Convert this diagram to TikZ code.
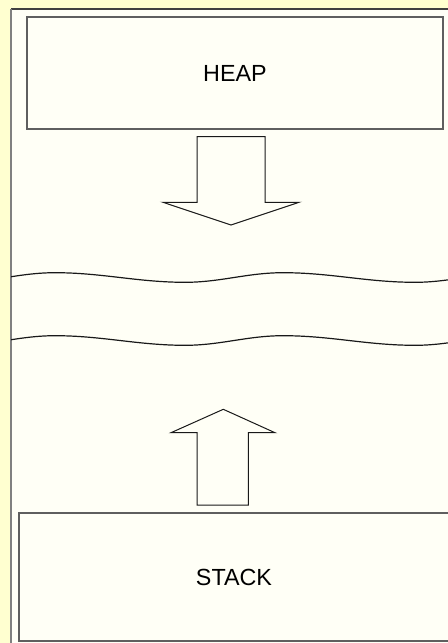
\documentclass[tikz,border=0pt]{standalone}
\usepackage{fontspec}
\setmainfont{Liberation Sans}
\definecolor{pageyellow}{RGB}{255,255,208}
\definecolor{panelivory}{RGB}{255,255,246}
\definecolor{boxgray}{RGB}{95,95,95}
\tikzset{
  blockbox/.style={draw=boxgray, line width=1pt, fill=panelivory, inner sep=0pt,
    font=\fontsize{17.5}{20}\selectfont},
  blockarrow/.style={draw=black!90, line width=0.75pt, fill=panelivory, line join=miter},
  gapline/.style={draw=black!90, line width=0.9pt}
}
\begin{document}
\begin{tikzpicture}[x=0.75pt, y=-0.75pt]
    \useasboundingbox (0,0) rectangle (448,643);
    % Page and panel
    \fill[pageyellow] (0,0) rectangle (448,643);
    \fill[panelivory] (11,9) rectangle (452,647);
    \draw[black!75, line width=1pt] (11,9) -- (452,9);
    \draw[gray, line width=1.3pt] (11,9) -- (11,647);

    % Heap block
    \node[blockbox, minimum width=312pt, minimum height=84pt] (heap) at (235,73) {HEAP};

    % Stack block
    \node[blockbox, minimum width=322.5pt, minimum height=96pt] (stack) at (234,577) {STACK};

    % Arrow growing down from the heap
    \draw[blockarrow] (197,136.7) -- (265,136.7) -- (265,202.3) -- (299,202.3)
        -- (231,225) -- (163,202.3) -- (197,202.3) -- cycle;

    % Arrow growing up from the stack
    \draw[blockarrow] (197,505) -- (248.3,505) -- (248.3,432.7) -- (275,432.7)
        -- (223.3,409.3) -- (171,432.7) -- (197,432.7) -- cycle;

    % Break in the address space
    \begin{scope}
        \clip (11,250) rectangle (448,360);
        \foreach \dy in {0,63} {
            \draw[gapline, yshift=-\dy*0.75pt] (-43,282.3)
                .. controls (-7.3,282.3) and (19.3,272.7) .. (55,272.7)
                .. controls (102,272.7) and (138,282.3) .. (185,282.3)
                .. controls (220.7,282.3) and (247.3,272.7) .. (283,272.7)
                .. controls (331,272.7) and (367,282.3) .. (415,282.3)
                .. controls (450.7,282.3) and (477.3,272.7) .. (513,272.7);
        }
    \end{scope}
\end{tikzpicture}
\end{document}
